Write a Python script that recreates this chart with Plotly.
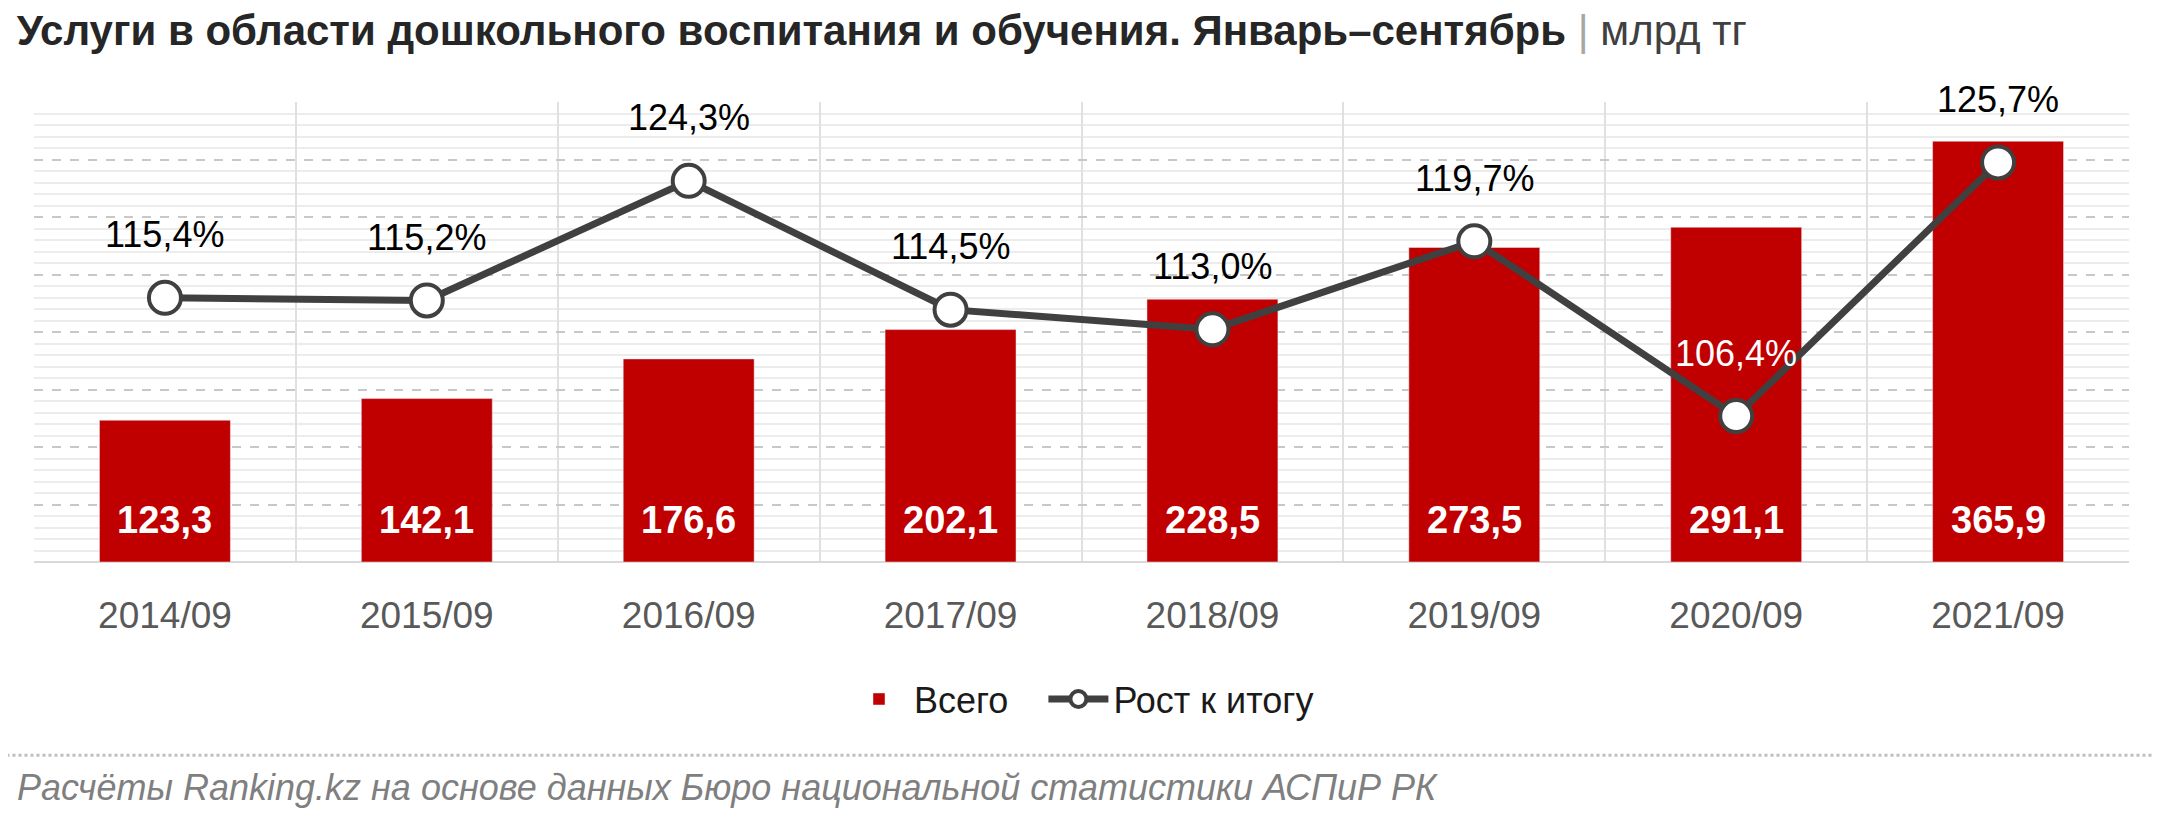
import plotly.graph_objects as go

# data
years = ["2014/09", "2015/09", "2016/09", "2017/09", "2018/09", "2019/09", "2020/09", "2021/09"]
total = [123.3, 142.1, 176.6, 202.1, 228.5, 273.5, 291.1, 365.9]   # млрд тг
growth = [115.4, 115.2, 124.3, 114.5, 113.0, 119.7, 106.4, 125.7]  # %

def ru(v):
    return f"{v:.1f}".replace(".", ",")

red = "#c00000"
dark = "#404040"
font_main = "Liberation Sans, Arial, sans-serif"

fig = go.Figure()

fig.add_trace(go.Bar(
    x=years, y=total, name="Всего\u00a0\u00a0\u00a0",
    marker=dict(color=red),
    width=0.5,
))

fig.add_trace(go.Scatter(
    x=years, y=growth, name="Рост к итогу", yaxis="y2",
    mode="lines+markers",
    line=dict(color=dark, width=7),
    marker=dict(size=32, color="white", line=dict(color=dark, width=4)),
    cliponaxis=False,
))

# value labels at the foot of each bar
for yr, v in zip(years, total):
    fig.add_annotation(
        x=yr, y=0, xref="x", yref="y", text="<b>" + ru(v) + "</b>",
        showarrow=False, yanchor="middle", yshift=42,
        font=dict(size=38, color="white", family=font_main),
    )

# percent labels above the markers; the 2020 one sits on the red bar, so white
label_col = ["#000000"] * len(years)
label_col[6] = "#ffffff"
for i, (yr, g) in enumerate(zip(years, growth)):
    fig.add_annotation(
        x=yr, y=g, xref="x", yref="y2", text=ru(g) + "%",
        showarrow=False, yanchor="middle", yshift=63,
        font=dict(size=36, color=label_col[i], family=font_main),
    )

fig.update_layout(
    width=2160, height=824,
    margin=dict(l=26, r=39, t=94, b=270),
    plot_bgcolor="white", paper_bgcolor="white",
    font=dict(family=font_main, color="#595959"),
    title=dict(
        text="<b>Услуги в области дошкольного воспитания и обучения. Январь–сентябрь</b>"
             " <span style='color:#a6a6a6'>|</span> <span style='color:#404040'>млрд тг</span>",
        x=0.004, xanchor="left", y=0.973, yanchor="middle",
        font=dict(size=42, color="#262626", family=font_main),
    ),
    xaxis=dict(
        type="category",
        tickson="boundaries",
        showgrid=True, gridcolor="#e0e0e0", gridwidth=1.5,
        ticks="", showline=False,
        tickfont=dict(size=37, color="#595959"),
        ticklabelstandoff=28,
    ),
    yaxis=dict(
        range=[0, 400], dtick=50,
        showgrid=True, gridcolor="#c8c8c8", griddash="dash", gridwidth=2,
        showticklabels=False, zeroline=True, zerolinecolor="#d9d9d9", zerolinewidth=2,
        minor=dict(dtick=10, showgrid=True, gridcolor="#ececec", gridwidth=1.5,
                   griddash="solid"),
    ),
    yaxis2=dict(
        range=[95.3, 130.3], overlaying="y", side="right",
        showgrid=False, showticklabels=False, zeroline=False,
    ),
    legend=dict(
        orientation="h", x=0.5, xanchor="center", y=-0.298, yanchor="middle",
        font=dict(size=36, color="#1a1a1a"), itemwidth=60,
    ),
    showlegend=True,
)

# dotted separator and source line
fig.add_shape(type="line", xref="paper", yref="paper",
              x0=-0.016, x1=1.02, y0=-0.42, y1=-0.42,
              line=dict(color="#bfbfbf", width=3, dash="dot"))
fig.add_annotation(
    xref="paper", yref="paper", x=-0.009, y=-0.491, xanchor="left", yanchor="middle",
    text="<i>Расчёты Ranking.kz на основе данных Бюро национальной статистики АСПиР РК</i>",
    showarrow=False, font=dict(size=36, color="#7f7f7f", family=font_main),
)

fig.write_html("out.html")
